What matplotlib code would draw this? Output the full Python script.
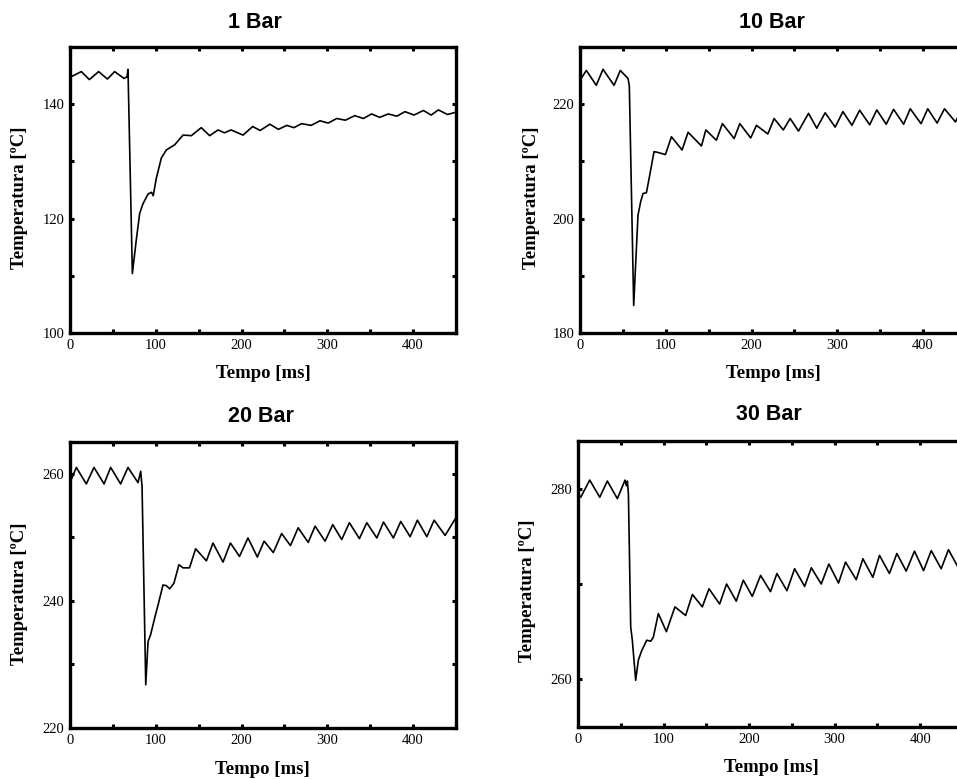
import matplotlib
matplotlib.use("Agg")
import matplotlib.pyplot as plt
from matplotlib.ticker import MultipleLocator

# ---------------- data ----------------
titles = ["1 Bar", "10 Bar", "20 Bar", "30 Bar"]

t_1bar = [0, 13.2, 22.6, 33.4, 43.6, 52, 63, 66.5, 67.6, 72.7, 77.3, 81.2, 85.1, 91, 95, 97,
          100.7, 106.5, 112.3, 122, 131.8, 141.5, 153, 162.8, 172.6, 180, 187.8, 201.7, 213,
          221.6, 233, 243, 252.7, 261, 270, 281, 291.5, 301, 311, 321, 332, 342, 351.6, 361,
          371, 381, 390.5, 401, 412, 421, 429.5, 440, 450]
T_1bar = [144.7, 145.7, 144.3, 145.7, 144.4, 145.7, 144.5, 144.8, 146.1, 110.4, 116.3, 120.9,
          122.6, 124.3, 124.6, 124.0, 127.1, 130.6, 132.0, 132.9, 134.6, 134.5, 135.9, 134.5,
          135.5, 135.0, 135.5, 134.6, 136.1, 135.4, 136.5, 135.6, 136.3, 135.9, 136.6, 136.3,
          137.1, 136.7, 137.5, 137.2, 138.0, 137.5, 138.3, 137.7, 138.3, 137.9, 138.7, 138.1,
          138.9, 138.1, 139.0, 138.2, 138.6]

t_10bar = [0, 7.4, 19, 26.8, 39.7, 47, 56, 57.5, 62.6, 67.6, 70.8, 73.5, 77.4, 81.3, 86.3, 90,
           99.6, 106.6, 119, 126, 141.6, 146.7, 159, 166, 179.7, 186.3, 199, 205.7, 219, 226.3,
           237, 245, 254.7, 266.4, 276, 285.8, 297.5, 306.5, 317, 326, 337.7, 346, 357, 365.6,
           377.3, 385, 397.6, 405.4, 416.3, 424.9, 437.7, 445, 450]
T_10bar = [224.2, 225.9, 223.3, 226.1, 223.3, 225.9, 224.5, 223.2, 184.8, 200.6, 203.0, 204.4,
           204.5, 207.6, 211.7, 211.6, 211.2, 214.3, 212.0, 215.1, 212.7, 215.5, 213.7, 216.6,
           214.0, 216.6, 214.1, 216.3, 214.8, 217.5, 215.5, 217.5, 215.3, 218.4, 215.8, 218.5,
           216.0, 218.7, 216.3, 218.95, 216.4, 219.0, 216.5, 219.1, 216.5, 219.2, 216.6, 219.2,
           216.7, 219.2, 216.9, 219.2, 218.5]

t_20bar = [0, 1.5, 7.4, 19, 28, 39.7, 47.4, 59, 67.6, 79.3, 82.4, 84, 88.3, 91, 94, 98.7, 103.3,
           108.4, 112.3, 116.2, 121.2, 127, 131.7, 139.3, 146.5, 159, 166.7, 178.4, 187, 197.6,
           207.5, 218.4, 226.3, 237, 246.7, 257, 266, 277.7, 285.7, 297.4, 306.3, 316.8, 325.7,
           337.4, 346, 357.7, 365.5, 377, 385.6, 396.5, 405, 416, 424.5, 437.3, 450]
T_20bar = [258.8, 259.1, 261.0, 258.4, 261.0, 258.4, 261.0, 258.4, 261.0, 258.6, 260.4, 258.0,
           226.8, 233.6, 234.7, 237.3, 239.7, 242.5, 242.4, 241.9, 242.8, 245.7, 245.2, 245.2,
           248.2, 246.3, 249.1, 246.1, 249.1, 247.0, 249.9, 246.9, 249.4, 247.6, 250.6, 248.7,
           251.5, 249.2, 251.75, 249.4, 252.0, 249.65, 252.3, 249.8, 252.3, 249.9, 252.4, 249.9,
           252.5, 250.1, 252.7, 250.1, 252.7, 250.3, 253.1]

t_30bar = [0, 3.2, 13.7, 25.4, 34.3, 46, 55, 56.5, 57.7, 58.9, 61.6, 63.5, 67.4, 70.5, 74.4,
           80.3, 85, 88, 93.9, 103.3, 113.3, 125.8, 133.7, 145.3, 153.1, 165.5, 173.7, 185,
           193.2, 203.7, 213.4, 225, 232.5, 244.2, 253.2, 264.9, 272.7, 284.3, 293.2, 304.5,
           312.7, 325.2, 333, 344.6, 352.4, 364, 372.7, 383.6, 393.3, 403.9, 412.9, 424.5, 433,
           444, 450]
T_30bar = [279.5, 279.1, 280.9, 279.1, 280.8, 278.95, 280.9, 280.3, 280.8, 279.5, 265.5, 264.1,
           259.9, 262.0, 263.0, 264.1, 264.0, 264.4, 266.9, 265.0, 267.6, 266.7, 268.9, 267.6,
           269.5, 267.9, 270.0, 268.2, 270.4, 268.7, 270.9, 269.2, 271.1, 269.3, 271.6, 269.75,
           271.7, 270.0, 272.1, 270.1, 272.3, 270.45, 272.65, 270.7, 273.0, 271.1, 273.2, 271.35,
           273.45, 271.4, 273.5, 271.6, 273.6, 271.8, 272.5]

series_t = [t_1bar, t_10bar, t_20bar, t_30bar]
series_T = [T_1bar, T_10bar, T_20bar, T_30bar]
ylims = [(100, 150), (180, 230), (220, 265), (255, 285)]
xlim = (0, 450)
xlabel = "Tempo [ms]"
ylabel = "Temperatura [ºC]"

# ---------------- layout (pixel based) ----------------
W, H = 957, 779
fig = plt.figure(figsize=(W / 100, H / 100), dpi=100)

# left, top, right, bottom in pixels
boxes = [(70, 47, 456, 333), (580, 47, 966, 333), (70, 442, 456, 728), (578, 441, 963, 727)]
title_pos = [(255, 22), (772, 22), (261, 417), (769, 415)]
ylab_pos = [(20, 198), (531, 198), (20, 594), (527, 591)]
xlab_pos = [(263, 373), (773, 374), (262, 770), (771, 767)]

serif = ["Liberation Serif", "DejaVu Serif"]

for i in range(4):
    l, t, r, b = boxes[i]
    ax = fig.add_axes([l / W, 1 - b / H, (r - l) / W, (b - t) / H])
    ax.plot(series_t[i], series_T[i], color="black", lw=1.2, solid_joinstyle="round")
    ax.set_xlim(*xlim)
    ax.set_ylim(*ylims[i])
    ax.xaxis.set_major_locator(MultipleLocator(100))
    ax.xaxis.set_minor_locator(MultipleLocator(50))
    ax.yaxis.set_major_locator(MultipleLocator(20))
    ax.yaxis.set_minor_locator(MultipleLocator(10))
    ax.tick_params(which="both", direction="in", top=True, right=True,
                   length=3.2, width=2.2, color="black")
    ax.tick_params(which="major", labelsize=10.5, pad=4)
    for lab in ax.get_xticklabels() + ax.get_yticklabels():
        lab.set_fontfamily(serif)
    for sp in ax.spines.values():
        sp.set_linewidth(2.4)
    fig.text(title_pos[i][0] / W, 1 - title_pos[i][1] / H, titles[i],
             ha="center", va="center", fontsize=15.5, fontweight="bold",
             family=["Liberation Sans", "DejaVu Sans"])
    fig.text(ylab_pos[i][0] / W, 1 - ylab_pos[i][1] / H, ylabel, rotation=90,
             ha="center", va="center", fontsize=13.5, fontweight="bold", family=serif)
    fig.text(xlab_pos[i][0] / W, 1 - xlab_pos[i][1] / H, xlabel,
             ha="center", va="center", fontsize=13.5, fontweight="bold", family=serif)

fig.savefig("out.png", dpi=100, facecolor="white")
